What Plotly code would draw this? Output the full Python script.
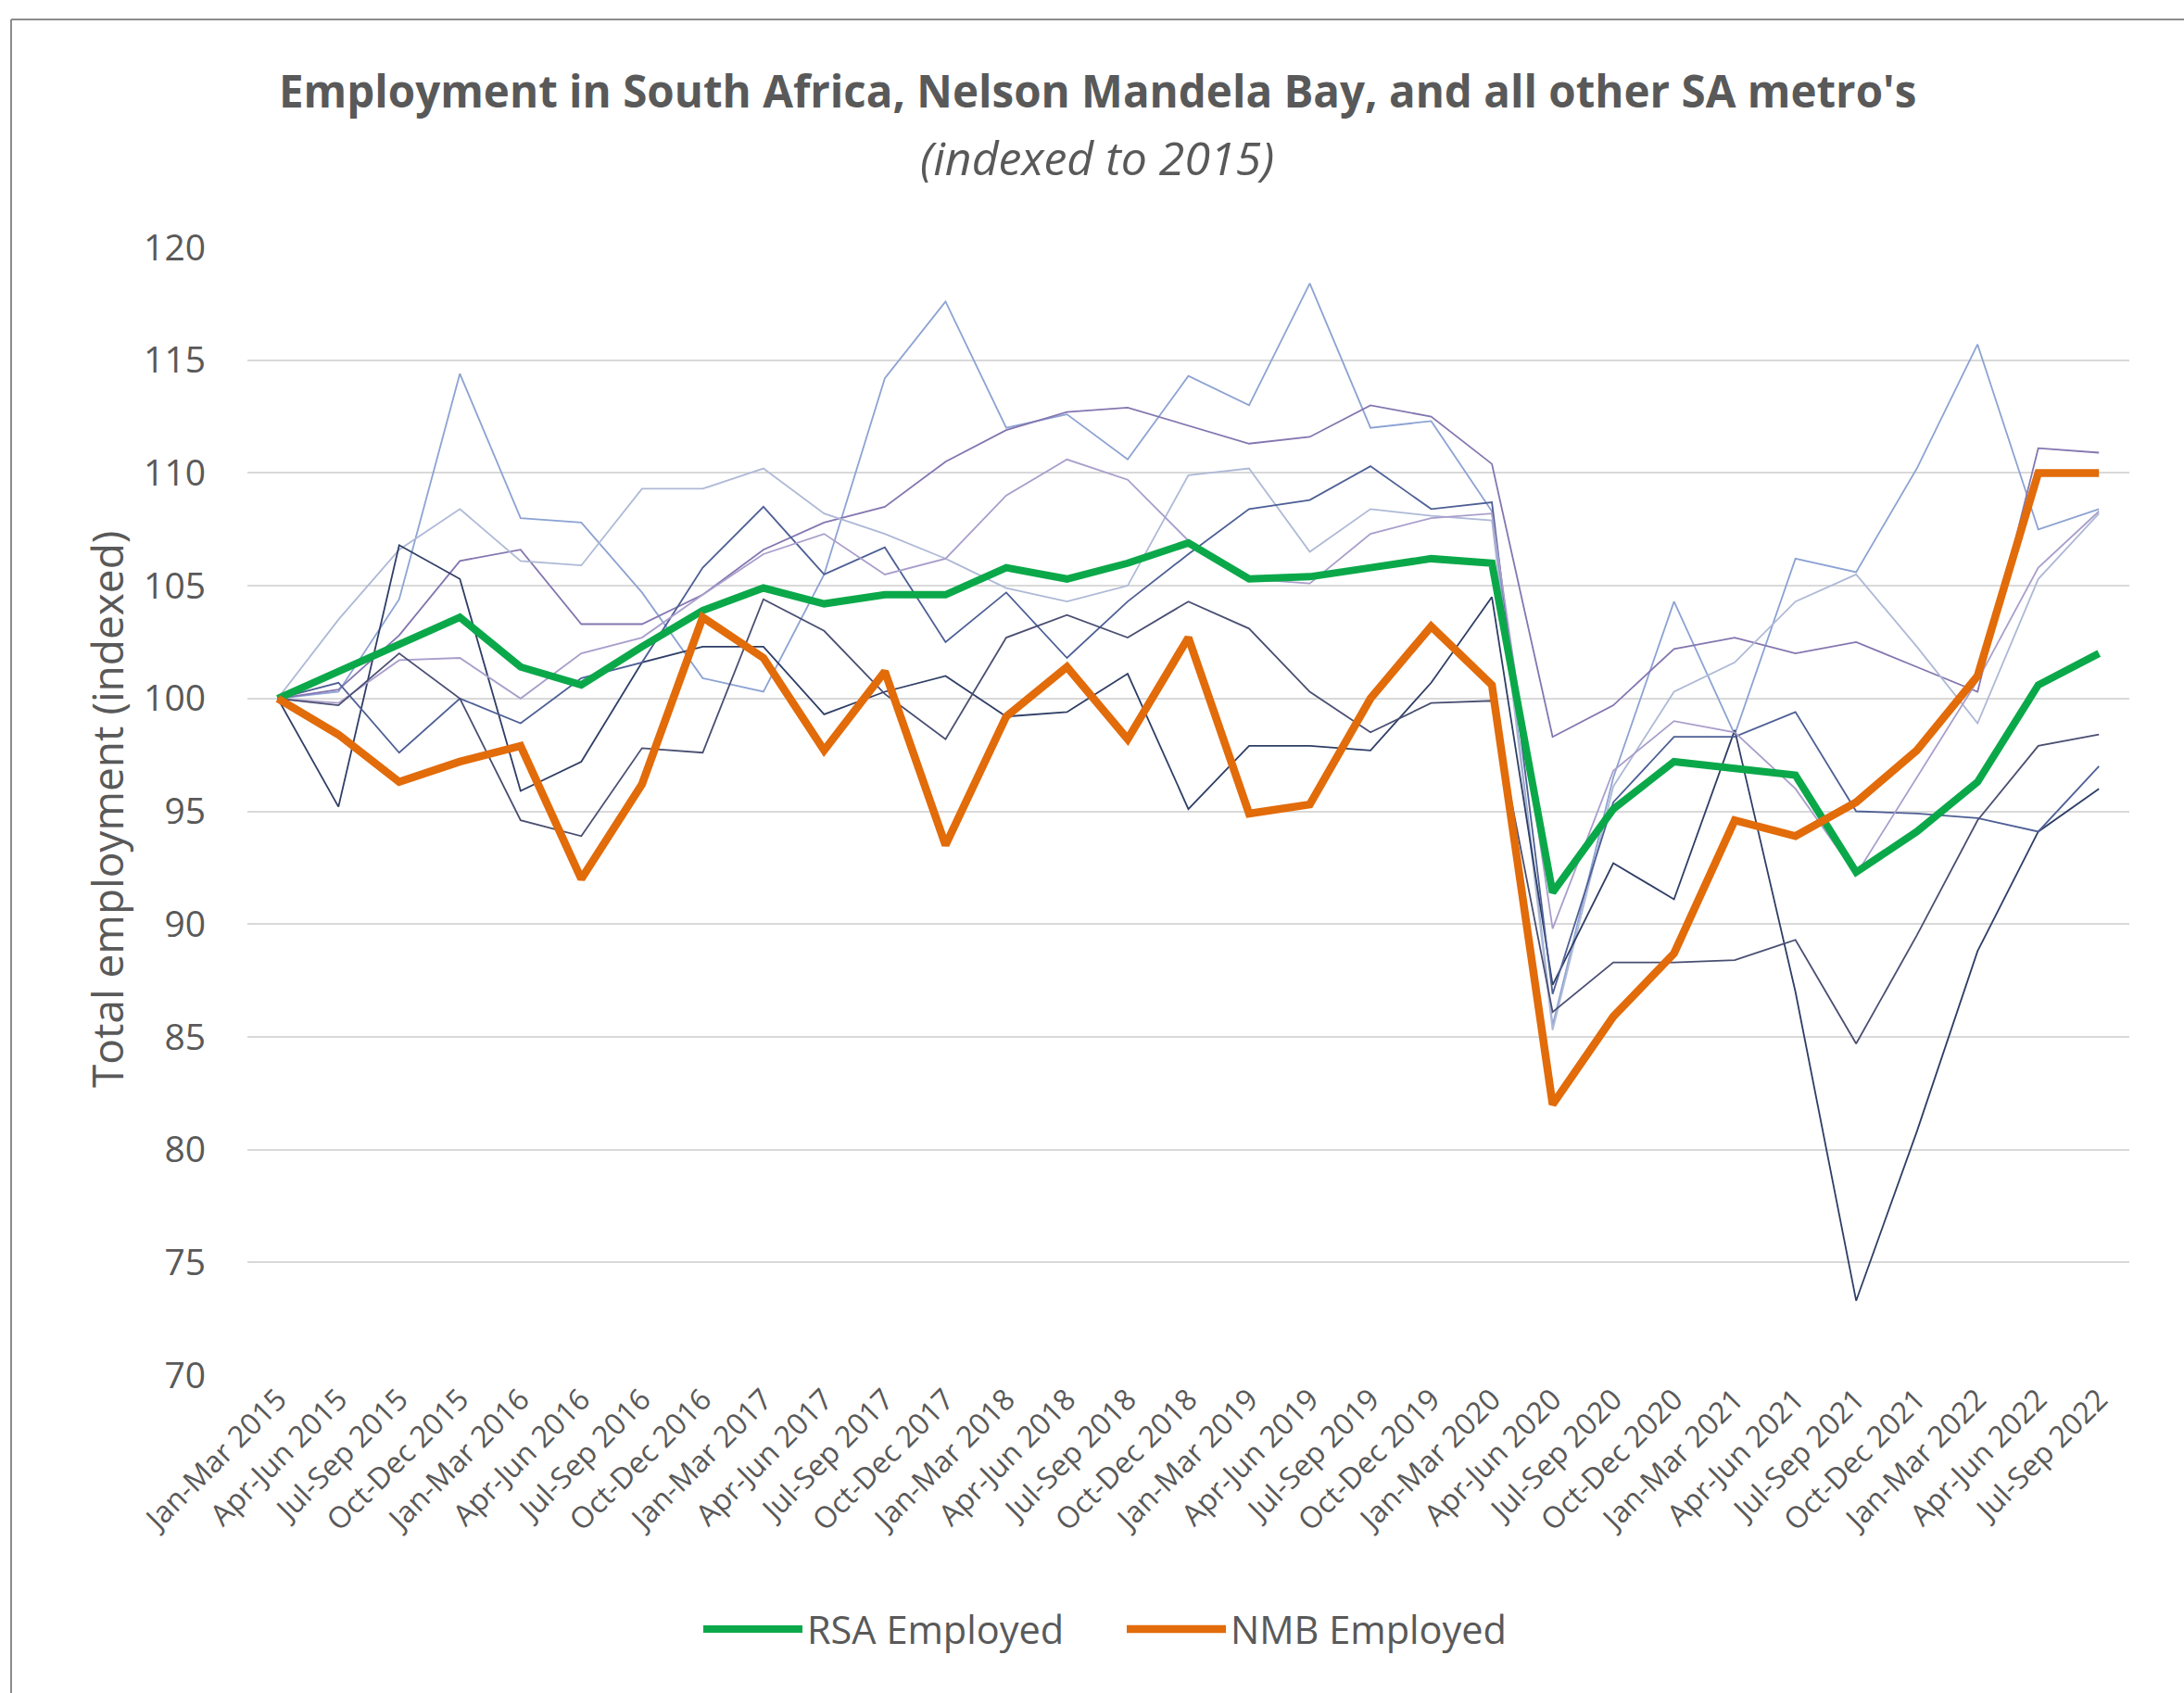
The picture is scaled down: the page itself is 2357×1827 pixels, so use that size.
import plotly.graph_objects as go

quarters = ["Jan-Mar 2015", "Apr-Jun 2015", "Jul-Sep 2015", "Oct-Dec 2015",
            "Jan-Mar 2016", "Apr-Jun 2016", "Jul-Sep 2016", "Oct-Dec 2016",
            "Jan-Mar 2017", "Apr-Jun 2017", "Jul-Sep 2017", "Oct-Dec 2017",
            "Jan-Mar 2018", "Apr-Jun 2018", "Jul-Sep 2018", "Oct-Dec 2018",
            "Jan-Mar 2019", "Apr-Jun 2019", "Jul-Sep 2019", "Oct-Dec 2019",
            "Jan-Mar 2020", "Apr-Jun 2020", "Jul-Sep 2020", "Oct-Dec 2020",
            "Jan-Mar 2021", "Apr-Jun 2021", "Jul-Sep 2021", "Oct-Dec 2021",
            "Jan-Mar 2022", "Apr-Jun 2022", "Jul-Sep 2022"]

rsa = [100, 101.2, 102.4, 103.6, 101.4, 100.6, 102.3, 103.9, 104.9, 104.2, 104.6,
       104.6, 105.8, 105.3, 106.0, 106.9, 105.3, 105.4, 105.8, 106.2, 106.0,
       91.4, 95.1, 97.2, 96.9, 96.6, 92.3, 94.1, 96.3, 100.6, 102.0]
nmb = [100, 98.4, 96.3, 97.2, 97.9, 92.0, 96.2, 103.6, 101.8, 97.7, 101.2,
       93.5, 99.2, 101.4, 98.2, 102.7, 94.9, 95.3, 100.0, 103.2, 100.6,
       82.0, 85.9, 88.7, 94.6, 93.9, 95.4, 97.7, 101.0, 110.0, 110.0]

metro_a = [100, 100.3, 104.4, 114.4, 108.0, 107.8, 104.7, 100.9, 100.3, 105.5, 114.2,
           117.6, 112.0, 112.6, 110.6, 114.3, 113.0, 118.4, 112.0, 112.3, 108.3,
           85.5, 96.5, 104.3, 98.4, 106.2, 105.6, 110.2, 115.7, 107.5, 108.4]
metro_b = [100, 100.4, 102.8, 106.1, 106.6, 103.3, 103.3, 104.6, 106.6, 107.8, 108.5,
           110.5, 111.9, 112.7, 112.9, 112.1, 111.3, 111.6, 113.0, 112.5, 110.4,
           98.3, 99.7, 102.2, 102.7, 102.0, 102.5, 101.4, 100.3, 111.1, 110.9]
metro_c = [100, 103.5, 106.6, 108.4, 106.1, 105.9, 109.3, 109.3, 110.2, 108.2, 107.3,
           106.2, 104.9, 104.3, 105.0, 109.9, 110.2, 106.5, 108.4, 108.1, 107.9,
           85.3, 96.1, 100.3, 101.6, 104.3, 105.5, 102.3, 98.9, 105.3, 108.2]
metro_d = [100, 95.2, 106.8, 105.3, 95.9, 97.2, 101.6, 102.3, 102.3, 99.3, 100.3,
           101.0, 99.2, 99.4, 101.1, 95.1, 97.9, 97.9, 97.7, 100.7, 104.5,
           87.3, 92.7, 91.1, 98.6, 87.0, 73.3, 80.8, 88.8, 94.1, 96.0]
metro_e = [100, 100.7, 97.6, 100.0, 98.9, 100.9, 101.6, 105.8, 108.5, 105.5, 106.7,
           102.5, 104.7, 101.8, 104.3, 106.4, 108.4, 108.8, 110.3, 108.4, 108.7,
           86.9, 95.4, 98.3, 98.3, 99.4, 95.0, 94.9, 94.7, 94.1, 97.0]
metro_f = [100, 99.8, 101.7, 101.8, 100.0, 102.0, 102.7, 104.6, 106.4, 107.3, 105.5,
           106.2, 109.0, 110.6, 109.7, 107.0, 105.3, 105.1, 107.3, 108.0, 108.2,
           89.8, 96.8, 99.0, 98.5, 96.0, 92.2, 96.5, 100.8, 105.8, 108.3]
metro_g = [100, 99.7, 102.0, 100.0, 94.6, 93.9, 97.8, 97.6, 104.4, 103.0, 100.2,
           98.2, 102.7, 103.7, 102.7, 104.3, 103.1, 100.3, 98.5, 99.8, 99.9,
           86.1, 88.3, 88.3, 88.4, 89.3, 84.7, 89.5, 94.6, 97.9, 98.4]

metros = [metro_a, metro_b, metro_c, metro_d, metro_e, metro_f, metro_g]
metro_colors = ["#8DA3D3", "#8476B0", "#AEB9D6", "#2F3E66", "#4E5F95", "#A99ECB", "#4A4F72"]

W, H = 2357, 1827
L, R, T, B = 267, 59, 267, 343
pw, ph = W - L - R, H - T - B


def px(x):
    return (x - L) / pw


def py(y):
    return (H - B - y) / ph


fig = go.Figure()
for vals, col in zip(metros, metro_colors):
    fig.add_trace(go.Scatter(x=quarters, y=vals, mode="lines",
                             line=dict(color=col, width=1.8),
                             showlegend=False, hoverinfo="skip"))

fig.add_trace(go.Scatter(x=quarters, y=rsa, mode="lines", name="RSA Employed",
                         line=dict(color="#0BA84A", width=8)))
fig.add_trace(go.Scatter(x=quarters, y=nmb, mode="lines", name="NMB Employed",
                         line=dict(color="#E26B0A", width=8.5)))

font_family = "Open Sans"
grey = "#595959"

fig.update_layout(
    width=W, height=H,
    margin=dict(l=L, r=R, t=T, b=B),
    paper_bgcolor="white", plot_bgcolor="white",
    font=dict(family=font_family, color=grey),
    showlegend=True,
    legend=dict(orientation="h", x=px(754), y=py(1758), xanchor="left", yanchor="middle",
                font=dict(size=41.5, color=grey, family=font_family), itemwidth=107,
                entrywidth=335, entrywidthmode="pixels",
                bgcolor="rgba(0,0,0,0)"),
    xaxis=dict(type="category", range=[-0.5, 30.5], showgrid=False, zeroline=False,
               showline=False, tickangle=-45, ticks="",
               tickfont=dict(size=32, color=grey, family=font_family)),
    yaxis=dict(range=[70, 120], tickvals=[70, 75, 80, 85, 90, 95, 100, 105, 110, 115, 120],
               showgrid=True, gridcolor="#D9D9D9", gridwidth=2, zeroline=False,
               showline=False, ticks="", ticklabelstandoff=44,
               tickfont=dict(size=39, color=grey, family=font_family)),
    annotations=[
        dict(text="<b>Employment in South Africa, Nelson Mandela Bay, and all other SA metro's</b>",
             x=px(1184), y=py(98), xref="paper", yref="paper", showarrow=False,
             xanchor="center", yanchor="middle",
             font=dict(size=47.5, color=grey, family=font_family)),
        dict(text="<i>(indexed to 2015)</i>",
             x=px(1184), y=py(170), xref="paper", yref="paper", showarrow=False,
             xanchor="center", yanchor="middle",
             font=dict(size=50, color=grey, family=font_family)),
        dict(text="Total employment (indexed)", textangle=-90,
             x=px(115), y=py(874), xref="paper", yref="paper", showarrow=False,
             xanchor="center", yanchor="middle",
             font=dict(size=46, color=grey, family=font_family)),
    ],
    shapes=[
        dict(type="line", xref="paper", yref="paper", x0=px(12), x1=px(W + 10), y0=py(21), y1=py(21),
             line=dict(color="#8C8C8C", width=2)),
        dict(type="line", xref="paper", yref="paper", x0=px(12), x1=px(12), y0=py(21), y1=py(H + 10),
             line=dict(color="#8C8C8C", width=2)),
    ],
)

fig.write_html("out.html", config={"displayModeBar": False},
               post_script="document.body.style.margin='0px';")
